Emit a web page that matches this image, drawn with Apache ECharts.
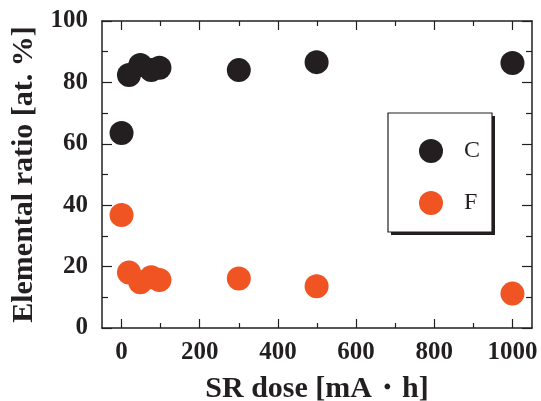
<!DOCTYPE html>
<html>
<head>
<meta charset="utf-8">
<script src="https://cdn.jsdelivr.net/npm/echarts@6/dist/echarts.min.js"></script>
<style>
html, body { margin: 0; padding: 0; background: #fff; }
#chart { width: 541px; height: 401px; }
</style>
</head>
<body>
<div id="chart"></div>
<script>
// SR dose [mA·h]
const doses = [0, 19, 48, 76, 97, 300, 499, 1000];
// elemental ratio [at. %]
const carbon = [63.5, 82.4, 85.7, 84.0, 84.8, 84.0, 86.6, 86.3];
const fluorine = [36.8, 18.1, 14.9, 16.5, 15.6, 16.1, 13.6, 11.2];
const xMajor = [0, 200, 400, 600, 800, 1000];
const xMinor = [100, 300, 500, 700, 900];

const serif = '"Liberation Serif", "Times New Roman", serif';
const ink = '#231f20';

const chart = echarts.init(document.getElementById('chart'));

const tickAxisX = (pos, vals, len, showLine) => ({
    type: 'value', position: pos, min: -50, max: 1050,
    axisLine: { show: showLine, onZero: false, lineStyle: { color: ink, width: 1.5 } },
    axisTick: { show: true, inside: true, length: len, customValues: vals, lineStyle: { color: ink, width: 1.2 } },
    axisLabel: { show: false },
    splitLine: { show: false }
});

chart.setOption({
    animation: false,
    grid: { left: 102, right: 9, top: 21, bottom: 73, outerBoundsMode: 'none' },
    legend: {
        orient: 'vertical',
        left: 414, top: 134,
        itemWidth: 24, itemHeight: 24, itemGap: 28,
        icon: 'circle',
        textStyle: { fontFamily: serif, fontSize: 24, color: ink, padding: [0, 0, 0, 16] },
        data: ['C', 'F']
    },
    graphic: [
        { type: 'rect', z: 0, shape: { x: 391, y: 116, width: 104, height: 119 }, style: { fill: ink } },
        { type: 'rect', z: 1, shape: { x: 388, y: 113, width: 104, height: 119 }, style: { fill: '#fff', stroke: ink, lineWidth: 1.2 } }
    ],
    xAxis: [
        {
            type: 'value', position: 'bottom', min: -50, max: 1050,
            name: 'SR dose [mA・h]', nameLocation: 'middle', nameGap: 46,
            nameTextStyle: { fontFamily: serif, fontWeight: 'bold', fontSize: 30, color: ink },
            axisLine: { onZero: false, lineStyle: { color: ink, width: 1.5 } },
            axisTick: { inside: true, length: 9, customValues: xMajor, lineStyle: { color: ink, width: 1.2 } },
            axisLabel: { customValues: xMajor, margin: 12, fontFamily: serif, fontWeight: 'bold', fontSize: 25, color: ink,
                formatter: v => String(v) },
            splitLine: { show: false }
        },
        tickAxisX('bottom', xMinor, 5, false),
        tickAxisX('top', xMajor, 9, true),
        tickAxisX('top', xMinor, 5, false)
    ],
    yAxis: [
        {
            type: 'value', position: 'left', min: 0, max: 100, interval: 20,
            name: 'Elemental ratio [at. %]', nameLocation: 'middle', nameGap: 60,
            nameTextStyle: { fontFamily: serif, fontWeight: 'bold', fontSize: 30, color: ink },
            axisLine: { onZero: false, lineStyle: { color: ink, width: 1.5 } },
            axisTick: { inside: true, length: 10, lineStyle: { color: ink, width: 1.2 } },
            minorTick: { show: true, splitNumber: 2, length: 6, lineStyle: { color: ink, width: 1.2 } },
            axisLabel: { margin: 14, fontFamily: serif, fontWeight: 'bold', fontSize: 25, color: ink },
            splitLine: { show: false }
        },
        {
            type: 'value', position: 'right', min: 0, max: 100, interval: 20,
            axisLine: { show: true, onZero: false, lineStyle: { color: ink, width: 1.5 } },
            axisTick: { inside: true, length: 10, lineStyle: { color: ink, width: 1.2 } },
            minorTick: { show: true, splitNumber: 2, length: 6, lineStyle: { color: ink, width: 1.2 } },
            axisLabel: { show: false },
            splitLine: { show: false }
        }
    ],
    series: [
        {
            name: 'C', type: 'scatter', symbolSize: 24,
            itemStyle: { color: ink, opacity: 1 },
            data: doses.map((d, i) => [d, carbon[i]])
        },
        {
            name: 'F', type: 'scatter', symbolSize: 24,
            itemStyle: { color: '#f05423', opacity: 1 },
            data: doses.map((d, i) => [d, fluorine[i]])
        }
    ]
});
</script>
</body>
</html>
